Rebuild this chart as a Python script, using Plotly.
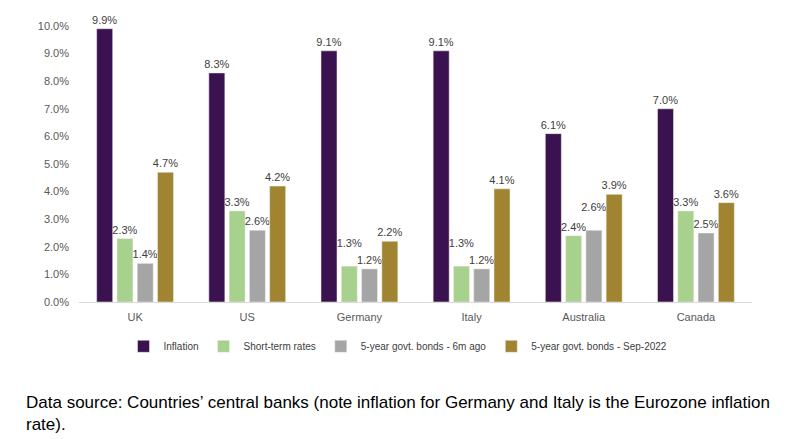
import plotly.graph_objects as go

countries = ["UK", "US", "Germany", "Italy", "Australia", "Canada"]
inflation = [9.9, 8.3, 9.1, 9.1, 6.1, 7.0]
short_term = [2.3, 3.3, 1.3, 1.3, 2.4, 3.3]
bonds_6m_ago = [1.4, 2.6, 1.2, 1.2, 2.6, 2.5]
bonds_sep22 = [4.7, 4.2, 2.2, 4.1, 3.9, 3.6]

# labels nudged up one line where they would collide (as in the source chart)
no_lift = [0, 0, 0, 0, 0, 0]
lift_short = [0, 0, 1, 1, 0, 0]
lift_6m = [0, 0, 0, 0, 1, 0]

series = [
    ("Inflation", inflation, "#3B1250", no_lift),
    ("Short-term rates", short_term, "#A9D18E", lift_short),
    ("5-year govt. bonds - 6m ago", bonds_6m_ago, "#A5A5A5", lift_6m),
    ("5-year govt. bonds - Sep-2022", bonds_sep22, "#A08432", no_lift),
]

fig = go.Figure()
for name, vals, col, lift in series:
    labels = [f"{v:.1f}%" + "<br>\u00a0" * k for v, k in zip(vals, lift)]
    fig.add_trace(go.Bar(
        x=countries, y=[v / 100 for v in vals], name=name,
        marker=dict(color=col, line=dict(color="#F2F2F2", width=0.5)),
        text=labels, textposition="outside",
        constraintext="none",
        textfont=dict(size=11, color="#404040"), cliponaxis=False,
    ))

# page body has an 8px margin, so the figure is drawn 8px smaller
fig.update_layout(
    width=783, height=431,
    margin=dict(l=71, r=39, t=18, b=137, autoexpand=False),
    paper_bgcolor="white", plot_bgcolor="white",
    font=dict(family="Liberation Sans, Arial", size=11, color="#595959"),
    barmode="group", bargap=0.277, bargroupgap=0.21,
    showlegend=True,
    legend=dict(orientation="h", x=0.474, xanchor="center", y=-0.108, yanchor="top",
                font=dict(size=10, color="#404040"), itemwidth=30,
                traceorder="normal"),
    xaxis=dict(showline=True, linecolor="#D9D9D9", ticks="", tickfont=dict(size=11),
               ticklabelstandoff=5),
    yaxis=dict(range=[0, 0.10], dtick=0.01, tickformat=".1%", showgrid=False,
               zeroline=False, showline=False, tickfont=dict(size=11),
               ticklabelstandoff=9),
)

fig.add_annotation(
    text="Data source: Countries\u2019 central banks (note inflation for Germany and Italy is the Eurozone inflation<br>rate).",
    xref="paper", yref="paper", x=-0.0818, y=-0.321, xanchor="left", yanchor="top",
    align="left", showarrow=False,
    font=dict(family="Liberation Sans, Arial", size=17, color="#000000"),
)

fig.write_html("out.html")
